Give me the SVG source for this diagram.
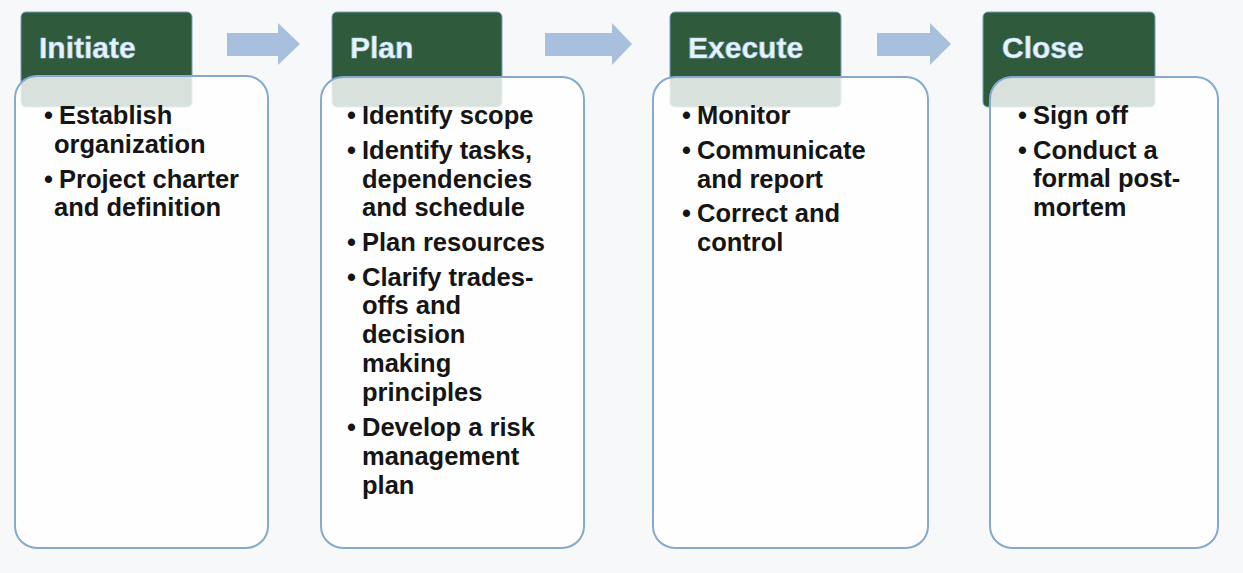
<svg xmlns="http://www.w3.org/2000/svg" width="1243" height="573" viewBox="0 0 1243 573">
<style>
.bg{fill:#f7f8f9}
.tab{fill:#2f5a3c;stroke:#7d9fbd;stroke-width:1}
.box{fill:#ffffff;fill-opacity:0.82;stroke:#86aacd;stroke-width:2}
.hd{font-family:"Liberation Sans",Arial,sans-serif;font-weight:bold;font-size:30px;fill:#eaf3fc;stroke:#a9cdee;stroke-width:0.6}
.tx{font-family:"Liberation Sans",Arial,sans-serif;font-weight:bold;font-size:25.5px;fill:#151515}
.arr{fill:#a8c0de}
</style>
<rect class="bg" x="0" y="0" width="1243" height="573"/>
<g id="connectors">
<polygon class="arr" points="227,33 278,33 278,23 300,44 278,65 278,56 227,56"/>
<polygon class="arr" points="545,33 612,33 612,23 632,44 612,65 612,56 545,56"/>
<polygon class="arr" points="877,33 930,33 930,23 951,44 930,65 930,56 877,56"/>
</g>
<g id="initiate">
<rect class="tab" x="21" y="12" width="171" height="95" rx="5"/>
<text class="hd" x="39" y="58">Initiate</text>
<rect class="box" x="15" y="76" width="253" height="472" rx="22"/>
<text class="tx"><tspan x="44" y="124">•</tspan><tspan x="59" y="124">Establish</tspan><tspan x="54" y="153">organization</tspan><tspan x="44" y="188">•</tspan><tspan x="59" y="188">Project charter</tspan><tspan x="54" y="216">and definition</tspan></text>
</g>
<g id="plan">
<rect class="tab" x="332" y="12" width="170" height="95" rx="5"/>
<text class="hd" x="350" y="58">Plan</text>
<rect class="box" x="321" y="77" width="263" height="471" rx="22"/>
<text class="tx"><tspan x="347" y="124">•</tspan><tspan x="362" y="124">Identify scope</tspan><tspan x="347" y="159">•</tspan><tspan x="362" y="159">Identify tasks,</tspan><tspan x="362" y="188">dependencies</tspan><tspan x="362" y="216">and schedule</tspan><tspan x="347" y="251">•</tspan><tspan x="362" y="251">Plan resources</tspan><tspan x="347" y="286">•</tspan><tspan x="362" y="286">Clarify trades-</tspan><tspan x="362" y="314">offs and</tspan><tspan x="362" y="343">decision</tspan><tspan x="362" y="372">making</tspan><tspan x="362" y="401">principles</tspan><tspan x="347" y="436">•</tspan><tspan x="362" y="436">Develop a risk</tspan><tspan x="362" y="465">management</tspan><tspan x="362" y="494">plan</tspan></text>
</g>
<g id="execute">
<rect class="tab" x="670" y="12" width="171" height="95" rx="5"/>
<text class="hd" x="688" y="58">Execute</text>
<rect class="box" x="653" y="77" width="275" height="471" rx="22"/>
<text class="tx"><tspan x="682" y="124">•</tspan><tspan x="697" y="124">Monitor</tspan><tspan x="682" y="159">•</tspan><tspan x="697" y="159">Communicate</tspan><tspan x="697" y="188">and report</tspan><tspan x="682" y="222">•</tspan><tspan x="697" y="222">Correct and</tspan><tspan x="697" y="251">control</tspan></text>
</g>
<g id="close">
<rect class="tab" x="983" y="12" width="172" height="95" rx="5"/>
<text class="hd" x="1002" y="58">Close</text>
<rect class="box" x="990" y="77" width="228" height="471" rx="22"/>
<text class="tx"><tspan x="1018" y="124">•</tspan><tspan x="1033" y="124">Sign off</tspan><tspan x="1018" y="159">•</tspan><tspan x="1033" y="159">Conduct a</tspan><tspan x="1033" y="187">formal post-</tspan><tspan x="1033" y="216">mortem</tspan></text>
</g>
</svg>
